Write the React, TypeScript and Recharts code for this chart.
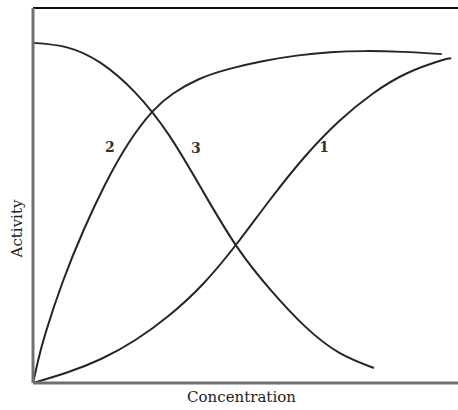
import { LineChart, Line, XAxis, YAxis, ReferenceLine, ReferenceDot } from "recharts";

// curve 1: sigmoid rise
const curve1 = [
    { x: 0, y: 0 },
    { x: 8, y: 2.8 },
    { x: 16, y: 6.4 },
    { x: 24, y: 11.4 },
    { x: 32, y: 18 },
    { x: 40, y: 26.4 },
    { x: 48, y: 37.2 },
    { x: 56, y: 49.2 },
    { x: 64, y: 60.4 },
    { x: 72, y: 69.8 },
    { x: 80, y: 77.2 },
    { x: 88, y: 82.6 },
    { x: 96, y: 86 },
    { x: 98.4, y: 86.6 },
]

// curve 2: hyperbolic rise
const curve2 = [
    { x: 0, y: 0 },
    { x: 1.2, y: 6 },
    { x: 3, y: 13.5 },
    { x: 7, y: 27 },
    { x: 12, y: 41 },
    { x: 17, y: 53 },
    { x: 22.5, y: 64 },
    { x: 28.2, y: 72.5 },
    { x: 33, y: 77.2 },
    { x: 39, y: 81 },
    { x: 46, y: 83.7 },
    { x: 54, y: 85.8 },
    { x: 62, y: 87.3 },
    { x: 70, y: 88.2 },
    { x: 78, y: 88.5 },
    { x: 87, y: 88.3 },
    { x: 96.2, y: 87.7 },
]

// curve 3: falling sigmoid
const curve3 = [
    { x: 0, y: 90.7 },
    { x: 8, y: 89.5 },
    { x: 16, y: 85.3 },
    { x: 24, y: 77.5 },
    { x: 32, y: 66.1 },
    { x: 40, y: 51.1 },
    { x: 48, y: 36.3 },
    { x: 56, y: 24.7 },
    { x: 64, y: 15.1 },
    { x: 72, y: 8.1 },
    { x: 80.2, y: 4 },
]

const curveLabels = [
    { name: "2", x: 18.1, y: 62.9 },
    { name: "3", x: 38.3, y: 62.7 },
    { name: "1", x: 68.5, y: 62.9 },
]

const font = "'DejaVu Serif', serif"
const lineColor = "#262626"

export default function App() {
    return (
        <div style={{ position: "absolute", left: 0, top: 0, background: "#fff" }}>
            <LineChart width={458} height={410} margin={{ top: 8, right: 0, left: 0, bottom: 0 }}>
                <XAxis
                    type="number"
                    dataKey="x"
                    domain={[0, 100]}
                    height={27}
                    tick={false}
                    tickLine={false}
                    axisLine={{ stroke: "#707070", strokeWidth: 3 }}
                    label={{ value: "Concentration", position: "center", dx: -4, fill: "#222", fontFamily: font, fontSize: 15 }}
                />
                <YAxis
                    type="number"
                    dataKey="y"
                    domain={[0, 100]}
                    width={33}
                    tick={false}
                    tickLine={false}
                    axisLine={{ stroke: "#707070", strokeWidth: 3 }}
                    label={{ value: "Activity", angle: -90, position: "center", dy: 33, fill: "#222", fontFamily: font, fontSize: 15 }}
                />
                <ReferenceLine y={100} stroke="#111" strokeWidth={2} />
                <Line data={curve1} dataKey="y" type="natural" stroke={lineColor} strokeWidth={2} dot={false} activeDot={false} isAnimationActive={false} />
                <Line data={curve2} dataKey="y" type="natural" stroke={lineColor} strokeWidth={2} dot={false} activeDot={false} isAnimationActive={false} />
                <Line data={curve3} dataKey="y" type="natural" stroke={lineColor} strokeWidth={2} dot={false} activeDot={false} isAnimationActive={false} />
                {curveLabels.map(l => (
                    <ReferenceDot
                        key={l.name}
                        x={l.x}
                        y={l.y}
                        r={0}
                        stroke="none"
                        label={{ value: l.name, position: "center", fill: "#333", fontFamily: font, fontSize: 14, fontWeight: "bold" }}
                    />
                ))}
            </LineChart>
        </div>
    )
}
